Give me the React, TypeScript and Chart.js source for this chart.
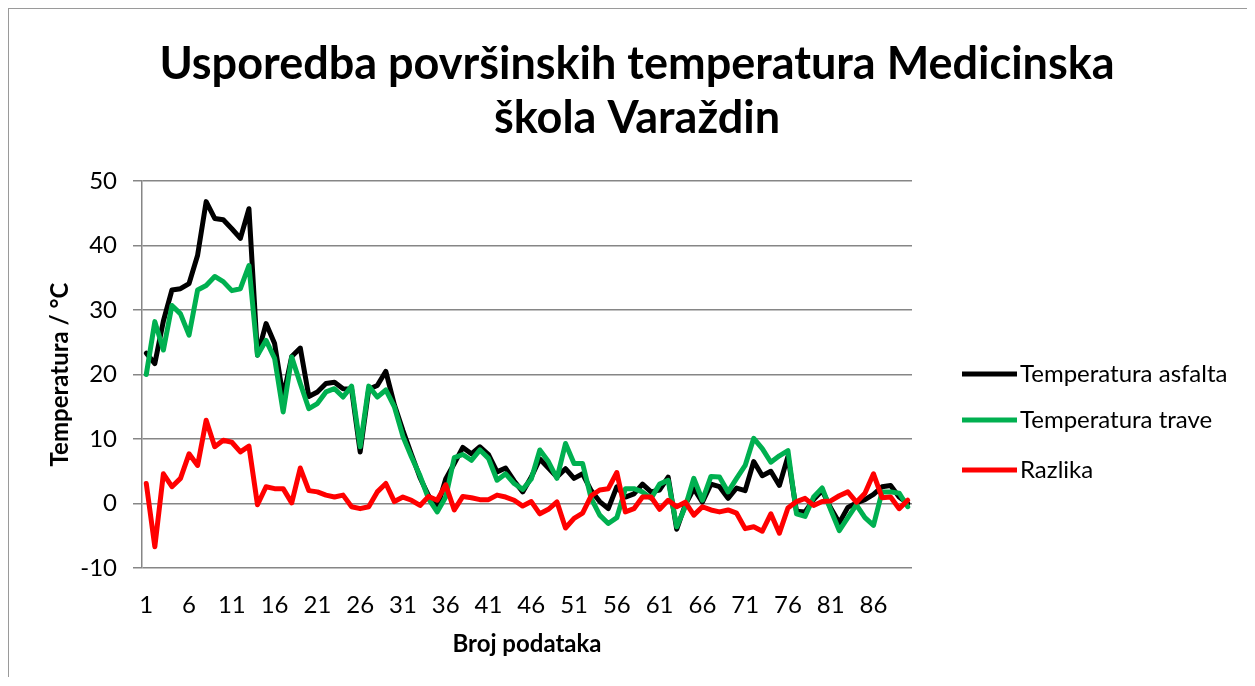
import React, { useEffect, useRef } from 'react';
import { Chart, registerables } from 'chart.js';

Chart.register(...registerables);

const categories = [
  '1', '2', '3', '4', '5', '6', '7', '8', '9', '10',
  '11', '12', '13', '14', '15', '16', '17', '18', '19', '20',
  '21', '22', '23', '24', '25', '26', '27', '28', '29', '30',
  '31', '32', '33', '34', '35', '36', '37', '38', '39', '40',
  '41', '42', '43', '44', '45', '46', '47', '48', '49', '50',
  '51', '52', '53', '54', '55', '56', '57', '58', '59', '60',
  '61', '62', '63', '64', '65', '66', '67', '68', '69', '70',
  '71', '72', '73', '74', '75', '76', '77', '78', '79', '80',
  '81', '82', '83', '84', '85', '86', '87', '88', '89', '90',
];

const asfalt = [
  23.3, 21.7, 28.3, 33.1, 33.3, 34.1, 38.5, 46.8, 44.2, 44.0, 42.6, 41.1, 45.7, 23.0, 27.9,
  24.8, 16.5, 22.8, 24.1, 16.6, 17.3, 18.6, 18.8, 17.8, 17.7, 8.0, 17.7, 18.3, 20.5, 15.3,
  11.3, 7.6, 4.0, 1.2, -0.7, 3.8, 6.2, 8.7, 7.7, 8.8, 7.6, 4.9, 5.5, 3.5, 1.8,
  4.1, 6.9, 5.5, 4.1, 5.4, 3.9, 4.6, 2.0, 0.3, -0.8, 2.6, 1.0, 1.5, 3.0, 1.8,
  2.1, 4.1, -4.0, -0.2, 2.3, 0.2, 3.0, 2.6, 0.8, 2.4, 2.0, 6.5, 4.3, 5.0, 2.8,
  7.3, -1.2, -1.3, 0.6, 2.0, -0.7, -3.0, -0.6, 0.1, 0.6, 1.4, 2.6, 2.8, 1.0, 0.0,
];

const trava = [
  20.0, 28.2, 23.8, 30.7, 29.4, 26.1, 33.1, 33.8, 35.2, 34.4, 33.0, 33.3, 36.9, 23.0, 25.3,
  22.5, 14.2, 22.7, 18.6, 14.7, 15.5, 17.3, 17.8, 16.5, 18.2, 8.8, 18.2, 16.5, 17.6, 15.0,
  10.4, 7.2, 4.3, 0.7, -1.3, 1.0, 7.1, 7.6, 6.7, 8.3, 7.0, 3.6, 4.6, 3.1, 2.2,
  3.8, 8.3, 6.5, 3.9, 9.3, 6.2, 6.2, 0.8, -1.8, -3.1, -2.2, 2.3, 2.3, 1.8, 0.8,
  3.0, 3.6, -3.6, -0.5, 3.9, 0.5, 4.2, 4.1, 1.8, 3.9, 5.9, 10.1, 8.5, 6.4, 7.4,
  8.2, -1.6, -2.0, 1.0, 2.4, -1.0, -4.2, -2.2, -0.2, -2.2, -3.4, 1.8, 1.8, 1.6, -0.5,
];

const razlika = [
  3.1, -6.7, 4.6, 2.6, 3.9, 7.7, 5.9, 12.9, 8.8, 9.8, 9.5, 8.0, 8.9, -0.2, 2.6,
  2.3, 2.3, 0.1, 5.5, 2.0, 1.8, 1.3, 1.0, 1.3, -0.5, -0.8, -0.5, 1.8, 3.1, 0.3,
  1.0, 0.5, -0.3, 1.1, 0.5, 2.9, -1.0, 1.1, 0.9, 0.6, 0.6, 1.3, 1.0, 0.5, -0.4,
  0.3, -1.6, -0.9, 0.25, -3.8, -2.3, -1.5, 1.2, 2.1, 2.3, 4.8, -1.3, -0.8, 1.0, 1.0,
  -0.9, 0.5, -0.5, 0.2, -1.8, -0.5, -1.0, -1.3, -1.0, -1.5, -3.9, -3.6, -4.3, -1.6, -4.6,
  -0.7, 0.3, 0.8, -0.3, 0.3, 0.4, 1.2, 1.8, 0.2, 1.6, 4.6, 0.9, 1.0, -0.8, 0.5,
];

const seriesNames = ['Temperatura asfalta', 'Temperatura trave', 'Razlika'];
const seriesColors = ['#000000', '#00B050', '#FF0000'];
const yTicks = [-10, 0, 10, 20, 30, 40, 50];
const titleLines = ['Usporedba površinskih temperatura Medicinska', 'škola Varaždin'];
const xTitle = 'Broj podataka';
const yTitle = 'Temperatura / °C';

const FONT = 'Lato, "Noto Sans", sans-serif';
const W = 1238;
const H = 668;
const GRID = '#868686';

// legend layout relative to chart area
const LEGEND_LINE_X = 50;
const LEGEND_LINE_W = 55;
const LEGEND_TEXT_GAP = 3;
const LEGEND_ROWS = [193, 239, 289];

const sideLegend = {
  id: 'sideLegend',
  afterDraw(chart: any) {
    const { ctx, chartArea } = chart;
    ctx.save();
    chart.data.datasets.forEach((ds: any, i: number) => {
      const y = chartArea.top + LEGEND_ROWS[i];
      const x0 = chartArea.right + LEGEND_LINE_X;
      ctx.strokeStyle = ds.borderColor;
      ctx.lineWidth = 5;
      ctx.lineCap = 'butt';
      ctx.beginPath();
      ctx.moveTo(x0, y);
      ctx.lineTo(x0 + LEGEND_LINE_W, y);
      ctx.stroke();
      ctx.fillStyle = '#000';
      ctx.font = `24px ${FONT}`;
      ctx.textBaseline = 'middle';
      ctx.textAlign = 'left';
      ctx.fillText(ds.label, x0 + LEGEND_LINE_W + LEGEND_TEXT_GAP, y);
    });
    ctx.restore();
  },
};

export default function App() {
  const ref = useRef<HTMLCanvasElement | null>(null);

  useEffect(() => {
    if (!ref.current) return;
    const mk = (label: string, data: number[], color: string, order: number) => ({
      label,
      data,
      borderColor: color,
      backgroundColor: color,
      borderWidth: 5,
      pointRadius: 0,
      pointHoverRadius: 0,
      tension: 0,
      fill: false,
      borderJoinStyle: 'round' as const,
      borderCapStyle: 'round' as const,
      order,
    });
    const chart = new Chart(ref.current, {
      type: 'line',
      data: {
        labels: categories,
        datasets: [
          mk(seriesNames[0], asfalt, seriesColors[0], 3),
          mk(seriesNames[1], trava, seriesColors[1], 2),
          mk(seriesNames[2], razlika, seriesColors[2], 1),
        ],
      },
      options: {
        responsive: false,
        animation: false,
        layout: { padding: { left: 18, right: 0, top: 0, bottom: 0 } },
        plugins: {
          legend: { display: false },
          tooltip: { enabled: false },
          title: {
            display: true,
            text: titleLines,
            color: '#000',
            font: { family: FONT, size: 45, weight: 'bold', lineHeight: 1.2 },
            padding: { top: 28, bottom: 36 },
          },
        },
        scales: {
          x: {
            type: 'category',
            offset: true,
            grid: { display: false, drawTicks: false },
            border: { display: false },
            ticks: {
              autoSkip: false,
              maxRotation: 0,
              minRotation: 0,
              padding: 23,
              color: '#000',
              font: { family: FONT, size: 24 },
              callback: (_v: any, i: number) => (i % 5 === 0 ? categories[i] : ''),
            },
            title: {
              display: true,
              text: xTitle,
              color: '#000',
              font: { family: FONT, size: 24, weight: 'bold' },
              padding: { top: 0, bottom: 18 },
            },
            afterFit: (s: any) => {
              s.height = 109;
            },
          },
          y: {
            type: 'linear',
            min: yTicks[0],
            max: yTicks[yTicks.length - 1],
            afterBuildTicks: (s: any) => {
              s.ticks = yTicks.map((v) => ({ value: v }));
            },
            grid: { color: GRID, lineWidth: 1.5, tickLength: 9, drawTicks: true },
            border: { display: true, color: GRID, width: 1.5 },
            ticks: {
              padding: 16,
              color: '#000',
              font: { family: FONT, size: 24 },
            },
            title: {
              display: true,
              text: yTitle,
              color: '#000',
              font: { family: FONT, size: 24, weight: 'bold' },
              padding: { top: 19, bottom: 0 },
            },
            afterFit: (s: any) => {
              s.width = 115;
            },
          },
          yR: {
            type: 'linear',
            position: 'right',
            display: true,
            grid: { display: false, drawTicks: false },
            border: { display: false },
            ticks: { display: false },
            afterFit: (s: any) => {
              s.width = 335;
            },
          },
        },
      },
      plugins: [sideLegend],
    });
    return () => chart.destroy();
  }, []);

  return (
    <div
      style={{
        width: W,
        height: H,
        borderLeft: '1px solid #9a9a9a',
        borderTop: '1px solid #9a9a9a',
      }}
    >
      <canvas ref={ref} width={W} height={H} style={{ display: 'block', width: W, height: H }} />
    </div>
  );
}
